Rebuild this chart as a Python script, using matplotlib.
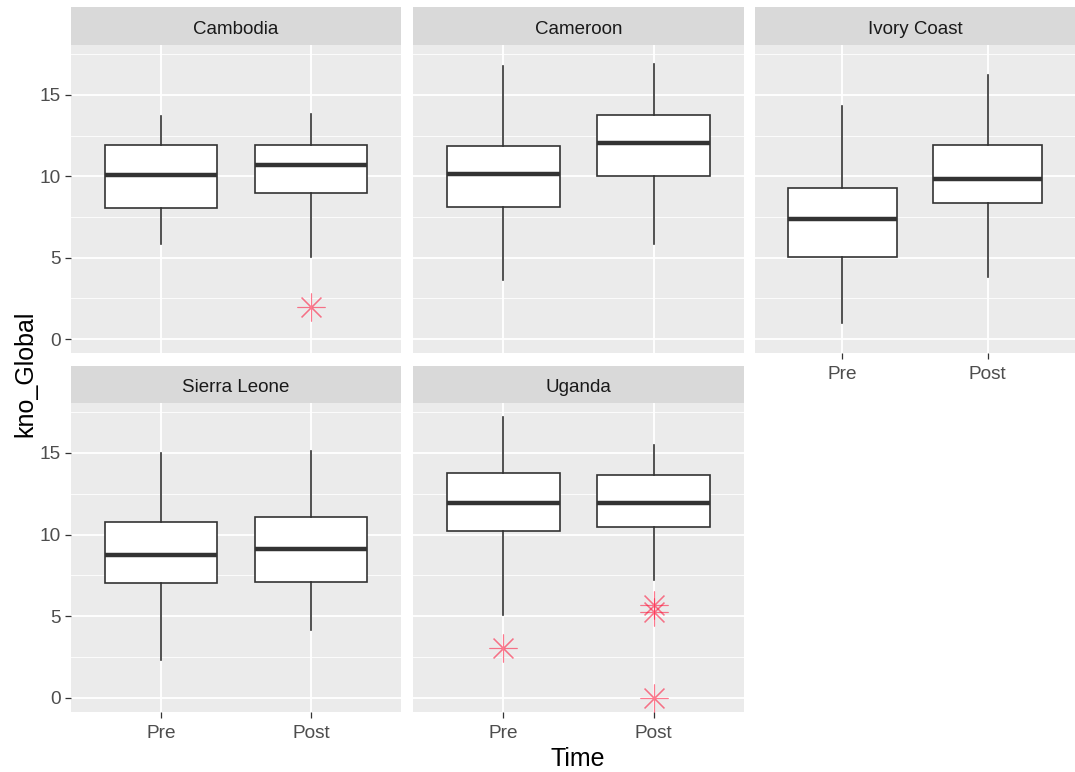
import matplotlib.pyplot as plt
from matplotlib.ticker import MultipleLocator, FixedLocator

plt.rcParams['font.family'] = ['Liberation Sans', 'DejaVu Sans']

countries = ['Cambodia', 'Cameroon', 'Ivory Coast', 'Sierra Leone', 'Uganda']
times = ['Pre', 'Post']

# box stats: whisker low, Q1, median, Q3, whisker high
pre_low = [5.81, 3.65, 0.99, 2.32, 5.09]
pre_q1 = [8.02, 8.13, 5.01, 7.04, 10.22]
pre_med = [10.10, 10.16, 7.35, 8.78, 11.92]
pre_q3 = [11.92, 11.84, 9.25, 10.79, 13.75]
pre_high = [13.71, 16.79, 14.32, 14.98, 17.19]
pre_out = [[], [], [], [], [3.04]]

post_low = [5.03, 5.85, 3.82, 4.17, 7.20]
post_q1 = [8.95, 9.99, 8.37, 7.08, 10.46]
post_med = [10.71, 12.01, 9.81, 9.15, 11.92]
post_q3 = [11.90, 13.75, 11.90, 11.08, 13.66]
post_high = [13.83, 16.87, 16.21, 15.14, 15.51]
post_out = [[1.97], [], [], [], [5.70, 5.26, 0.0]]

W, H = 1075, 772
fig = plt.figure(figsize=(W / 100, H / 100), dpi=100)


def px_axes(x0, y0, x1, y1):
    return fig.add_axes([x0 / W, 1 - y1 / H, (x1 - x0) / W, (y1 - y0) / H])


cols = [(71, 401), (413, 744), (755, 1075)]
rows = [((7, 45), (45, 353)), ((366, 403), (403, 712))]

for i, name in enumerate(countries):
    r, c = divmod(i, 3)
    (sy0, sy1), (py0, py1) = rows[r]
    x0, x1 = cols[c]

    # strip
    sax = px_axes(x0, sy0, x1, sy1)
    sax.set_facecolor('#D9D9D9')
    sax.set_xticks([]); sax.set_yticks([])
    for s in sax.spines.values():
        s.set_visible(False)
    sax.text(0.5, 0.42, name, ha='center', va='center', fontsize=13.5,
             color='#1A1A1A', transform=sax.transAxes)

    ax = px_axes(x0, py0, x1, py1)
    ax.set_facecolor('#EBEBEB')
    for s in ax.spines.values():
        s.set_visible(False)

    stats = [
        dict(whislo=pre_low[i], q1=pre_q1[i], med=pre_med[i], q3=pre_q3[i],
             whishi=pre_high[i], fliers=pre_out[i], label='Pre'),
        dict(whislo=post_low[i], q1=post_q1[i], med=post_med[i], q3=post_q3[i],
             whishi=post_high[i], fliers=post_out[i], label='Post'),
    ]
    ax.bxp(stats, positions=[1, 2], widths=0.75, patch_artist=True,
           showcaps=False,
           boxprops=dict(facecolor='white', edgecolor='#333333', linewidth=1.2),
           medianprops=dict(color='#333333', linewidth=3.2, solid_capstyle='butt'),
           whiskerprops=dict(color='#333333', linewidth=1.2),
           flierprops=dict(marker=(8, 2, 0), markersize=20, markeredgewidth=0.8,
                           markeredgecolor=(1, 0.05, 0.2, 0.55), markerfacecolor='none',
                           linestyle='none'))

    ax.set_xlim(0.4, 2.6)
    ax.set_ylim(-0.86, 18.06)
    ax.xaxis.set_major_locator(FixedLocator([1, 2]))
    ax.set_xticklabels(times)
    ax.yaxis.set_major_locator(MultipleLocator(5))
    ax.yaxis.set_minor_locator(MultipleLocator(2.5))
    ax.set_axisbelow(True)
    ax.grid(which='major', color='white', linewidth=1.3)
    ax.grid(which='minor', axis='y', color='white', linewidth=0.6)

    show_x = (r == 1) or (c == 2)
    show_y = (c == 0)
    ax.tick_params(which='major', length=4.2, width=0.9, color='#333333',
                   labelsize=13.7, labelcolor='#4D4D4D', pad=3,
                   bottom=show_x, labelbottom=show_x,
                   left=show_y, labelleft=show_y)
    ax.tick_params(axis='x', which='major', pad=5)
    ax.tick_params(which='minor', length=0)

fig.text(25 / W, 1 - 374 / H, 'kno_Global', rotation=90, ha='center',
         va='center', fontsize=18, color='black')
fig.text(578 / W, 1 - 759 / H, 'Time', ha='center', va='center',
         fontsize=18, color='black')

fig.savefig('out.png', dpi=100)
